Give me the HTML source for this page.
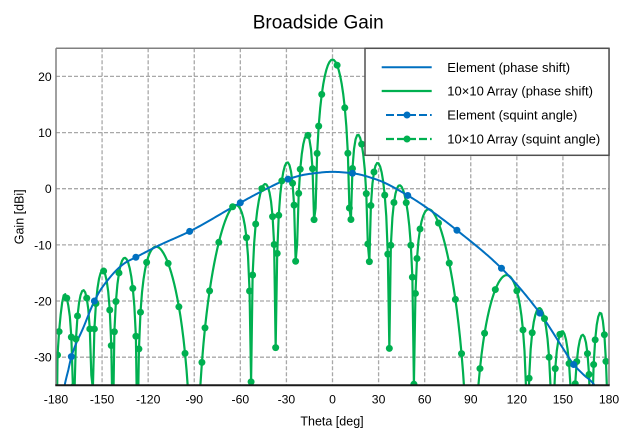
<!DOCTYPE html>
<html><head><meta charset="utf-8"><style>
html,body{margin:0;padding:0;background:#fff;width:626px;height:446px;overflow:hidden;}
svg{display:block;font-family:"Liberation Sans",Arial,sans-serif;}
</style></head><body>
<svg id="s" width="626" height="446" viewBox="0 0 626 446" xmlns="http://www.w3.org/2000/svg">
<defs><clipPath id="c"><rect x="56" y="48.3" width="553" height="337"/></clipPath></defs>
<rect width="626" height="446" fill="#fff"/>
<g stroke="#a8a8a8" stroke-width="1.3" stroke-dasharray="4,2" fill="none">
<line x1="102.08" y1="48.3" x2="102.08" y2="385.3"/>
<line x1="148.17" y1="48.3" x2="148.17" y2="385.3"/>
<line x1="194.25" y1="48.3" x2="194.25" y2="385.3"/>
<line x1="240.33" y1="48.3" x2="240.33" y2="385.3"/>
<line x1="286.42" y1="48.3" x2="286.42" y2="385.3"/>
<line x1="332.5" y1="48.3" x2="332.5" y2="385.3"/>
<line x1="378.58" y1="48.3" x2="378.58" y2="385.3"/>
<line x1="424.67" y1="48.3" x2="424.67" y2="385.3"/>
<line x1="470.75" y1="48.3" x2="470.75" y2="385.3"/>
<line x1="516.83" y1="48.3" x2="516.83" y2="385.3"/>
<line x1="562.92" y1="48.3" x2="562.92" y2="385.3"/>
<line x1="56" y1="76.4" x2="609" y2="76.4"/>
<line x1="56" y1="132.6" x2="609" y2="132.6"/>
<line x1="56" y1="188.7" x2="609" y2="188.7"/>
<line x1="56" y1="244.9" x2="609" y2="244.9"/>
<line x1="56" y1="301.0" x2="609" y2="301.0"/>
<line x1="56" y1="357.2" x2="609" y2="357.2"/>
</g>
<g clip-path="url(#c)">
<path id="gl" fill="none" stroke="#00B050" stroke-width="2.2" stroke-linejoin="round"/>
<path id="bl" fill="none" stroke="#0070C0" stroke-width="2" stroke-linejoin="round"/>
<g id="gm" fill="#00B050"></g>
<g id="bm" fill="#0070C0"></g>
</g>
<line x1="56" y1="48.3" x2="609" y2="48.3" stroke="#808080" stroke-width="1.5"/>
<line x1="56" y1="48.3" x2="56" y2="385.3" stroke="#808080" stroke-width="1.5"/>
<line x1="609" y1="48.3" x2="609" y2="385.3" stroke="#808080" stroke-width="1.5"/>
<line x1="55.3" y1="385.3" x2="609.7" y2="385.3" stroke="#1a1a1a" stroke-width="2"/>
<rect x="365" y="48.3" width="244" height="107" fill="#fff" stroke="#505050" stroke-width="1.5"/>
<line x1="381.7" y1="67.3" x2="431.7" y2="67.3" stroke="#0070C0" stroke-width="2"/>
<line x1="381.7" y1="91" x2="431.7" y2="91" stroke="#00B050" stroke-width="2.2"/>
<line x1="386" y1="115" x2="431.7" y2="115" stroke="#0070C0" stroke-width="2" stroke-dasharray="8,3"/>
<circle cx="407" cy="115" r="3.5" fill="#0070C0"/>
<line x1="386" y1="139" x2="431.7" y2="139" stroke="#00B050" stroke-width="2.2" stroke-dasharray="8,3"/>
<circle cx="407" cy="139" r="3.5" fill="#00B050"/>
<g font-size="13" fill="#000">
<text x="447.3" y="71.9">Element (phase shift)</text>
<text x="447.3" y="95.6">10×10 Array (phase shift)</text>
<text x="447.3" y="119.6">Element (squint angle)</text>
<text x="447.3" y="143.6">10×10 Array (squint angle)</text>
</g>
<text x="252.7" y="28.3" font-size="19" fill="#000">Broadside Gain</text>
<g font-size="12.2" fill="#000" text-anchor="end">
<text x="51.7" y="80.8">20</text>
<text x="51.7" y="137">10</text>
<text x="51.7" y="193.1">0</text>
<text x="51.7" y="249.3">-10</text>
<text x="51.7" y="305.4">-20</text>
<text x="51.7" y="361.6">-30</text>
</g>
<g font-size="12.2" fill="#000" text-anchor="middle">
<text x="56" y="403.5">-180</text>
<text x="102.08" y="403.5">-150</text>
<text x="148.17" y="403.5">-120</text>
<text x="194.25" y="403.5">-90</text>
<text x="240.33" y="403.5">-60</text>
<text x="286.42" y="403.5">-30</text>
<text x="332.5" y="403.5">0</text>
<text x="378.58" y="403.5">30</text>
<text x="424.67" y="403.5">60</text>
<text x="470.75" y="403.5">90</text>
<text x="516.83" y="403.5">120</text>
<text x="562.92" y="403.5">150</text>
<text x="609" y="403.5">180</text>
</g>
<text x="332" y="425.5" font-size="12.5" fill="#000" text-anchor="middle">Theta [deg]</text>
<text transform="translate(23.5,216.8) rotate(-90)" font-size="12.5" fill="#000" text-anchor="middle">Gain [dBi]</text>
</svg>
<script>
(function(){
const X=t=>56+(t+180)*553/360, Y=d=>48.3+(25-d)*337/60;
const P=[[-180,-75],[-179,-49.5],[-178,-45],[-177,-41.5],[-176,-38.5],[-174.5,-35.2],[-172,-32.3],[-170,-29.9],[-162,-24.6],[-155,-20.0],[-150,-17.6],[-135,-13.2],[-128,-12.2],[-113,-10.1],[-93,-7.6],[-60,-2.5],[-43.5,-0.1],[-29,1.7],[-16,2.6],[0,3.0],[13,2.75],[29,1.6],[49,-1.2],[63,-3.7],[81,-7.4],[110.5,-14.3],[135.4,-22.3],[150,-28.4],[157,-31.3],[163,-33.0],[171,-35.2],[174.5,-38.5],[177,-45],[178,-50.3],[179,-58],[180,-75]];
const n=P.length,xs=P.map(p=>p[0]),ys=P.map(p=>p[1]),d=[],m=[];
for(let i=0;i<n-1;i++)d[i]=(ys[i+1]-ys[i])/(xs[i+1]-xs[i]);
m[0]=d[0];m[n-1]=d[n-2];
for(let i=1;i<n-1;i++){if(d[i-1]*d[i]<=0)m[i]=0;else{const h0=xs[i]-xs[i-1],h1=xs[i+1]-xs[i];const w1=2*h1+h0,w2=h1+2*h0;m[i]=(w1+w2)/(w1/d[i-1]+w2/d[i]);}}
function Ge(t){let i=0;while(i<n-2&&t>xs[i+1])i++;const h=xs[i+1]-xs[i],s=(t-xs[i])/h,s2=s*s,s3=s2*s;
return (2*s3-3*s2+1)*ys[i]+(s3-2*s2+s)*h*m[i]+(-2*s3+3*s2)*ys[i+1]+(s3-s2)*h*m[i+1];}
function af(t){const u=Math.sin(t*Math.PI/180),psi=Math.PI*u,den=10*Math.sin(psi/2);
if(Math.abs(den)<1e-9)return 0;const v=Math.abs(Math.sin(5*psi)/den);return v<1e-12?-240:20*Math.log10(v);}
const LIM=388;
function clipPath(pts){
 let s="",pen=false;
 for(let i=0;i<pts.length;i++){
  const p=pts[i];
  if(i===0){ if(p[1]<=LIM){s+="M"+p[0].toFixed(2)+","+p[1].toFixed(2);pen=true;} continue;}
  const q=pts[i-1];
  const pin=p[1]<=LIM,qin=q[1]<=LIM;
  if(pin&&qin){s+="L"+p[0].toFixed(2)+","+p[1].toFixed(2);}
  else if(qin&&!pin){const f=(LIM-q[1])/(p[1]-q[1]);const x=q[0]+f*(p[0]-q[0]);s+="L"+x.toFixed(2)+","+LIM;pen=false;}
  else if(!qin&&pin){const f=(LIM-q[1])/(p[1]-q[1]);const x=q[0]+f*(p[0]-q[0]);s+="M"+x.toFixed(2)+","+LIM+"L"+p[0].toFixed(2)+","+p[1].toFixed(2);pen=true;}
 }
 return s;
}
let bp=[],gp=[],gpts=[];
for(let t=-180;t<=180;t++){
 const e=Ge(t),g=e+20+af(t);
 bp.push([X(t),Y(Math.max(e,-200))]);
 gp.push([X(t),Y(Math.max(g,-200))]);
 gpts.push([X(t),Y(Math.max(g,-60)),Y(g)]);
}
document.getElementById("bl").setAttribute("d",clipPath(bp));
document.getElementById("gl").setAttribute("d",clipPath(gp));
const NS="http://www.w3.org/2000/svg";
function dot(g,x,y){const c=document.createElementNS(NS,"circle");c.setAttribute("cx",x.toFixed(2));c.setAttribute("cy",y.toFixed(2));c.setAttribute("r","3.5");g.appendChild(c);}
const bm=document.getElementById("bm");
[-170,-155,-128,-93,-60,-29,13,49,81,110,135,157].forEach(t=>dot(bm,X(t),Y(Ge(t))));
const cum=[0];
for(let i=1;i<gpts.length;i++)cum[i]=cum[i-1]+Math.hypot(gpts[i][0]-gpts[i-1][0],gpts[i][1]-gpts[i-1][1]);
const D=42,gm=document.getElementById("gm"),used={};
let j=0;
for(let tg=0;tg<=cum[cum.length-1];tg+=D){
 while(j<cum.length-1&&Math.abs(cum[j+1]-tg)<=Math.abs(cum[j]-tg))j++;
 if(!used[j]){used[j]=1;if(gpts[j][2]<389)dot(gm,gpts[j][0],gpts[j][2]);}
}
})();
</script>
</body></html>
